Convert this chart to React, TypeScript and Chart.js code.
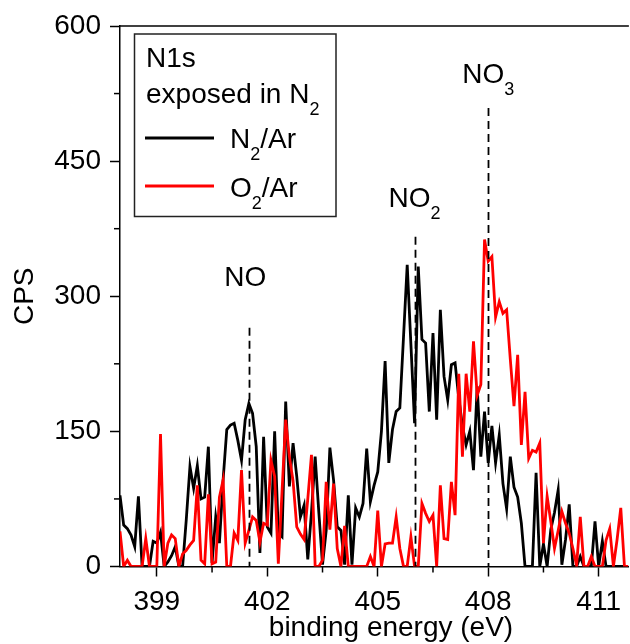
import React, { useEffect, useRef } from "react";
import { Chart, registerables } from "chart.js";

Chart.register(...registerables);

// Binding-energy grid of the spectra (eV)
const energyStart = 398.0;
const energyStep = 0.1;

// N1s spectra, counts per second
const n2ArCounts = [
  79, 46, 42, 35, 22, 78, 0, 0, 0, 28,
  26, 38, 0, 5, 12, 22, 0, 0, 52, 111,
  87, 112, 75, 77, 133, 4, 55, 26, 96, 152,
  157, 159, 140, 118, 163, 181, 170, 133, 15, 144,
  44, 37, 150, 37, 33, 183, 89, 137, 100, 55,
  68, 8, 60, 122, 60, 2, 40, 132, 96, 44,
  40, 2, 79, 2, 65, 55, 70, 131, 72, 90,
  105, 150, 228, 115, 152, 172, 176, 255, 335, 247,
  159, 333, 252, 248, 172, 259, 163, 285, 211, 185,
  224, 226, 187, 156, 135, 150, 107, 200, 122, 172,
  115, 156, 115, 146, 92, 64, 122, 88, 77, 48,
  0, 0, 0, 104, 0, 25, 0, 41, 60, 85,
  2, 30, 69, 0, 0, 11, 0, 0, 0, 50,
  0, 28, 0, 0, 0, 0, 0, 0, 0,
];

const o2ArCounts = [
  39, 0, 7, 0, 0, 0, 0, 31, 0, 0,
  0, 147, 0, 26, 35, 31, 0, 14, 18, 24,
  29, 90, 7, 3, 80, 3, 5, 77, 96, 0,
  0, 37, 29, 107, 26, 40, 55, 51, 27, 48,
  46, 118, 100, 3, 83, 163, 122, 95, 44, 36,
  30, 75, 124, 0, 0, 7, 94, 41, 92, 20,
  0, 45, 0, 0, 0, 0, 0, 0, 11, 0,
  62, 0, 25, 26, 26, 55, 20, 0, 0, 33,
  0, 0, 70, 59, 50, 57, 0, 90, 31, 30,
  94, 57, 214, 122, 214, 172, 250, 190, 202, 363,
  339, 344, 277, 294, 281, 285, 230, 178, 235, 135,
  194, 120, 129, 127, 137, 26, 78, 50, 20, 40,
  61, 48, 37, 20, 1, 55, 0, 0, 11, 0,
  0, 0, 29, 42, 0, 30, 65, 0, 0,
];

// Axes
const xMin = 398;
const xMax = 411.82;
const xTickValues = [399, 402, 405, 408, 411];
const xMinorTickValues = [400.5, 403.5, 406.5, 409.5];
const yTickValues = [0, 150, 300, 450, 600];
const yMinorTickValues = [75, 225, 375, 525];

// Peak assignments
const peakNames = ["NO", "NO", "NO"];
const peakSubscripts = ["", "2", "3"];
const peakEnergies = [401.5, 406.0, 408.0];
const peakLineTopCps = [265, 366, 509];
const peakLabelEnergies = [401.4, 406.0, 408.0];
const peakLabelCps = [311, 399, 537];

const FONT = "'Liberation Sans', Arial, Helvetica, sans-serif";

type Part = [string, boolean];

function drawRich(
  ctx: CanvasRenderingContext2D,
  parts: Part[],
  x: number,
  y: number,
  size: number,
  subSize: number,
  subDrop: number,
  align: "left" | "center"
) {
  const widths = parts.map(([t, sub]) => {
    ctx.font = `${sub ? subSize : size}px ${FONT}`;
    return ctx.measureText(t).width;
  });
  const total = widths.reduce((a, b) => a + b, 0);
  let cx = align === "center" ? x - total / 2 : x;
  ctx.textAlign = "left";
  ctx.textBaseline = "alphabetic";
  parts.forEach(([t, sub], k) => {
    ctx.font = `${sub ? subSize : size}px ${FONT}`;
    ctx.fillText(t, cx, sub ? y + subDrop : y);
    cx += widths[k];
  });
}

const overlayPlugin = {
  id: "overlay",
  afterDatasetsDraw(chart: any) {
    const { ctx, chartArea, scales } = chart;
    const xs = scales.x;
    const ys = scales.y;
    ctx.save();
    ctx.strokeStyle = "#000";
    ctx.lineWidth = 1.8;
    ctx.setLineDash([8, 5]);
    peakEnergies.forEach((e, k) => {
      const px = Math.round(xs.getPixelForValue(e)) + 0.5;
      ctx.beginPath();
      ctx.moveTo(px, ys.getPixelForValue(peakLineTopCps[k]));
      ctx.lineTo(px, chartArea.bottom);
      ctx.stroke();
    });
    ctx.restore();
  },
  afterDraw(chart: any) {
    const { ctx, chartArea, scales } = chart;
    const xs = scales.x;
    const ys = scales.y;
    ctx.save();
    ctx.strokeStyle = "#000";
    ctx.fillStyle = "#000";
    ctx.setLineDash([]);

    // top frame line
    ctx.lineWidth = 1.5;
    ctx.beginPath();
    ctx.moveTo(chartArea.left, chartArea.top);
    ctx.lineTo(chartArea.right, chartArea.top);
    ctx.stroke();

    // minor ticks
    ctx.lineWidth = 1.5;
    xMinorTickValues.forEach((v) => {
      const px = xs.getPixelForValue(v);
      ctx.beginPath();
      ctx.moveTo(px, chartArea.bottom);
      ctx.lineTo(px, chartArea.bottom + 6);
      ctx.stroke();
    });
    yMinorTickValues.forEach((v) => {
      const py = ys.getPixelForValue(v);
      ctx.beginPath();
      ctx.moveTo(chartArea.left, py);
      ctx.lineTo(chartArea.left - 6, py);
      ctx.stroke();
    });

    // peak labels
    peakLabelEnergies.forEach((e, k) => {
      const parts: Part[] = [[peakNames[k], false]];
      if (peakSubscripts[k]) parts.push([peakSubscripts[k], true]);
      drawRich(ctx, parts, xs.getPixelForValue(e), ys.getPixelForValue(peakLabelCps[k]), 28, 18, 12, "center");
    });

    // legend box
    ctx.lineWidth = 1.5;
    ctx.strokeStyle = "#222";
    ctx.strokeRect(134.5, 34, 201.5, 182.5);
    drawRich(ctx, [["N1s", false]], 146, 67, 28, 18, 12, "left");
    drawRich(ctx, [["exposed in N", false], ["2", true]], 146, 103, 28, 18, 12, "left");
    ctx.lineWidth = 2.8;
    ctx.strokeStyle = "#000";
    ctx.beginPath();
    ctx.moveTo(145, 138);
    ctx.lineTo(214, 138);
    ctx.stroke();
    drawRich(ctx, [["N", false], ["2", true], ["/Ar", false]], 230, 148, 28, 18, 12, "left");
    ctx.strokeStyle = "#ff0000";
    ctx.beginPath();
    ctx.moveTo(145, 186);
    ctx.lineTo(214, 186);
    ctx.stroke();
    drawRich(ctx, [["O", false], ["2", true], ["/Ar", false]], 230, 197, 28, 18, 12, "left");

    // axis titles
    ctx.fillStyle = "#000";
    ctx.font = `28px ${FONT}`;
    ctx.textAlign = "center";
    ctx.textBaseline = "alphabetic";
    ctx.fillText("binding energy (eV)", 391, 636);
    ctx.save();
    ctx.translate(25, (chartArea.top + chartArea.bottom) / 2);
    ctx.rotate(-Math.PI / 2);
    ctx.textBaseline = "middle";
    ctx.fillText("CPS", 0, 0);
    ctx.restore();

    ctx.restore();
  },
};

export default function App() {
  const canvasRef = useRef<HTMLCanvasElement | null>(null);

  useEffect(() => {
    const canvas = canvasRef.current;
    if (!canvas) return;
    const energies = n2ArCounts.map((_, i) => +(energyStart + i * energyStep).toFixed(2));
    const chart = new Chart(canvas, {
      type: "line",
      data: {
        datasets: [
          {
            label: "N2/Ar",
            data: n2ArCounts.map((v, i) => ({ x: energies[i], y: v })),
            borderColor: "#000000",
            borderWidth: 2.8,
            pointRadius: 0,
            tension: 0,
            fill: false,
            order: 2,
          },
          {
            label: "O2/Ar",
            data: o2ArCounts.map((v, i) => ({ x: energies[i], y: v })),
            borderColor: "#ff0000",
            borderWidth: 2.8,
            pointRadius: 0,
            tension: 0,
            fill: false,
            order: 1,
          },
        ],
      },
      options: {
        responsive: false,
        animation: false,
        events: [],
        layout: { padding: { top: 26, left: 0, right: 0, bottom: 0 } },
        plugins: {
          legend: { display: false },
          tooltip: { enabled: false },
          title: { display: false },
        },
        scales: {
          x: {
            type: "linear",
            min: xMin,
            max: xMax,
            afterBuildTicks: (s: any) => {
              s.ticks = xTickValues.map((v) => ({ value: v }));
            },
            afterFit: (s: any) => {
              s.height = 77.5;
            },
            grid: {
              drawOnChartArea: false,
              drawTicks: true,
              tickLength: 10,
              tickWidth: 1.5,
              tickColor: "#000",
            },
            border: { display: true, color: "#000", width: 1.5 },
            ticks: {
              color: "#000",
              font: { family: FONT, size: 28 },
              padding: 9,
              maxRotation: 0,
              autoSkip: false,
              callback: (v: any) => String(v),
            },
          },
          y: {
            type: "linear",
            min: 0,
            max: 600,
            afterBuildTicks: (s: any) => {
              s.ticks = yTickValues.map((v) => ({ value: v }));
            },
            afterFit: (s: any) => {
              s.width = 120;
            },
            grid: {
              drawOnChartArea: false,
              drawTicks: true,
              tickLength: 10,
              tickWidth: 1.5,
              tickColor: "#000",
            },
            border: { display: true, color: "#000", width: 1.5 },
            ticks: {
              color: "#000",
              font: { family: FONT, size: 28 },
              padding: 9,
              autoSkip: false,
              callback: (v: any) => String(v),
            },
          },
        },
      },
      plugins: [overlayPlugin],
    });
    return () => chart.destroy();
  }, []);

  return (
    <div style={{ position: "absolute", left: 0, top: 0, width: 630, height: 644, background: "#fff" }}>
      <canvas ref={canvasRef} width={630} height={644} style={{ display: "block", width: 630, height: 644 }} />
    </div>
  );
}
